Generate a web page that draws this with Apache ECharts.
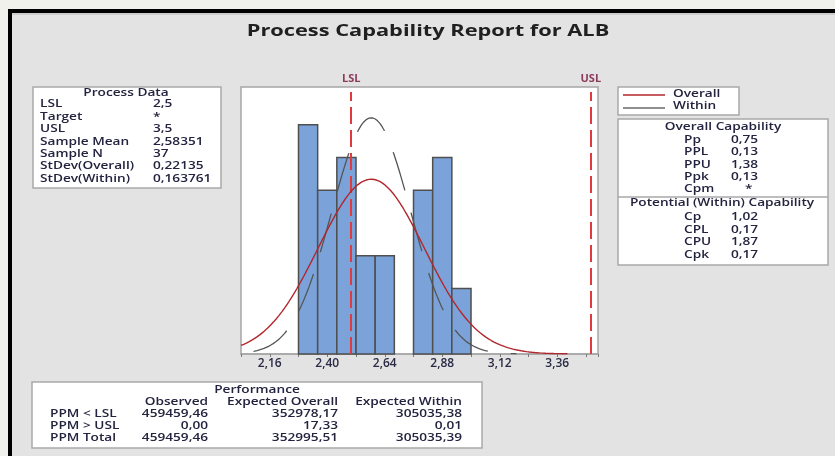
<!DOCTYPE html>
<html>
<head>
<meta charset="utf-8">
<script src="https://cdn.jsdelivr.net/npm/echarts@6/dist/echarts.min.js"></script>
<style>
  html, body { margin: 0; padding: 0; background: #e3e3e3; }
  #chart { width: 835px; height: 456px; }
</style>
</head>
<body>
<div id="chart"></div>
<script>
// Histogram of ALB: lower edge of each bin and its count
const binLower = [2.28, 2.36, 2.44, 2.52, 2.60, 2.68, 2.76, 2.84, 2.92];
const binCounts = [7, 5, 6, 3, 3, 0, 5, 6, 2];
const binWidth = 0.08;

// Process data
const LSL = 2.5;
const USL = 3.5;
const sampleMean = 2.58351;
const sampleN = 37;
const stdevOverall = 0.22135;
const stdevWithin = 0.163761;

// Axis tick labels
const xTickValues = [2.16, 2.40, 2.64, 2.88, 3.12, 3.36];
const xTickLabels = ['2,16', '2,40', '2,64', '2,88', '3,12', '3,36'];

// Side tables
const processDataLabels = ['LSL', 'Target', 'USL', 'Sample Mean', 'Sample N', 'StDev(Overall)', 'StDev(Within)'];
const processDataValues = ['2,5', '*', '3,5', '2,58351', '37', '0,22135', '0,163761'];

const overallCapLabels = ['Pp', 'PPL', 'PPU', 'Ppk', 'Cpm'];
const overallCapValues = ['0,75', '0,13', '1,38', '0,13', '*'];
const withinCapLabels = ['Cp', 'CPL', 'CPU', 'Cpk'];
const withinCapValues = ['1,02', '0,17', '1,87', '0,17'];

const perfColumns = ['Observed', 'Expected Overall', 'Expected Within'];
const perfRows = ['PPM < LSL', 'PPM > USL', 'PPM Total'];
const perfObserved = ['459459,46', '0,00', '459459,46'];
const perfExpOverall = ['352978,17', '17,33', '352995,51'];
const perfExpWithin = ['305035,38', '0,01', '305035,39'];

// ---- fitted normal curves, scaled to histogram counts ----
const X_MIN = 2.04, X_MAX = 3.53;
const CURVE_SPAN = 3.7; // curves drawn out to mean + 3.7 sigma

function normalCurve(mu, sigma) {
  const scale = sampleN * binWidth / (sigma * Math.sqrt(2 * Math.PI));
  const end = Math.min(X_MAX, mu + CURVE_SPAN * sigma);
  const start = Math.max(X_MIN, mu - CURVE_SPAN * sigma);
  const pts = [];
  const steps = 240;
  for (let i = 0; i <= steps; i++) {
    const x = start + (end - start) * i / steps;
    const z = (x - mu) / sigma;
    pts.push([x, scale * Math.exp(-0.5 * z * z)]);
  }
  return pts;
}

const histData = binLower.map((lo, i) => [lo, lo + binWidth, binCounts[i]]);
const withinCurve = normalCurve(sampleMean, stdevWithin);
const overallCurve = normalCurve(sampleMean, stdevOverall);

// ---- text helpers for the side tables ----
const TEXT_COLOR = '#23233f';
const TABLE_FONT = '600 10.5px "Open Sans"';
const TEXT_SX = 1.3;

function txt(x, y, s, opt) {
  opt = opt || {};
  const align = opt.align || 'left';
  return {
    type: 'text', x: x, y: y, scaleX: opt.sx || TEXT_SX, silent: true, z: 10,
    style: {
      text: s, font: opt.font || TABLE_FONT, fill: opt.color || TEXT_COLOR,
      textAlign: align, textVerticalAlign: 'middle', align: align, verticalAlign: 'middle'
    }
  };
}
function box(x, y, w, h) {
  return {
    type: 'rect', silent: true, z: 5,
    shape: { x: x, y: y, width: w, height: h },
    style: { fill: '#ffffff', stroke: '#a9a9a9', lineWidth: 1.5 }
  };
}

const graphics = [];
// frame
graphics.push({ type: 'rect', silent: true, z: 1, shape: { x: 0, y: 0, width: 835, height: 9 }, style: { fill: '#f0f0ec' } });
graphics.push({ type: 'rect', silent: true, z: 1, shape: { x: 0, y: 0, width: 8, height: 456 }, style: { fill: '#f0f0ec' } });
graphics.push({ type: 'rect', silent: true, z: 2, shape: { x: 8, y: 9, width: 827, height: 4 }, style: { fill: '#000000' } });
graphics.push({ type: 'rect', silent: true, z: 2, shape: { x: 8, y: 9, width: 4, height: 447 }, style: { fill: '#000000' } });
graphics.push({ type: 'rect', silent: true, z: 2, shape: { x: 12, y: 13, width: 823, height: 2 }, style: { fill: '#cdcdcd' } });

// title
graphics.push(txt(428, 31, 'Process Capability Report for ALB',
  { font: '700 16.5px "Open Sans"', align: 'center', sx: 1.32, color: '#202020' }));

// Process Data
graphics.push(box(33, 87, 188, 101));
graphics.push(txt(126, 93, 'Process Data', { align: 'center' }));
processDataLabels.forEach((l, i) => {
  const y = 104.5 + i * 12.4;
  graphics.push(txt(40, y, l));
  graphics.push(txt(153, y, processDataValues[i]));
});

// legend
graphics.push(box(618, 87, 121, 28));
graphics.push({ type: 'line', silent: true, z: 10, shape: { x1: 623, y1: 95, x2: 665, y2: 95 }, style: { stroke: '#b3262b', lineWidth: 1.3 } });
graphics.push({ type: 'line', silent: true, z: 10, shape: { x1: 623, y1: 108, x2: 665, y2: 108 }, style: { stroke: '#6a6a6a', lineWidth: 1.3 } });
graphics.push(txt(673, 94, 'Overall'));
graphics.push(txt(673, 106, 'Within'));

// capability
graphics.push(box(618, 119, 210, 146));
graphics.push({ type: 'line', silent: true, z: 10, shape: { x1: 618, y1: 197, x2: 828, y2: 197 }, style: { stroke: '#a9a9a9', lineWidth: 1.5 } });
graphics.push(txt(723, 127, 'Overall Capability', { align: 'center' }));
overallCapLabels.forEach((l, i) => {
  const y = 140 + i * 12.3;
  graphics.push(txt(684, y, l));
  graphics.push(txt(overallCapValues[i] === '*' ? 745 : 731, y, overallCapValues[i]));
});
graphics.push(txt(722, 203, 'Potential (Within) Capability', { align: 'center' }));
withinCapLabels.forEach((l, i) => {
  const y = 217 + i * 12.7;
  graphics.push(txt(684, y, l));
  graphics.push(txt(731, y, withinCapValues[i]));
});

// performance
graphics.push(box(32, 382, 450, 66));
graphics.push(txt(257, 390, 'Performance', { align: 'center' }));
const perfRight = [208, 338, 462];
perfColumns.forEach((c, j) => graphics.push(txt(perfRight[j], 402, c, { align: 'right' })));
const perfCols = [perfObserved, perfExpOverall, perfExpWithin];
perfRows.forEach((r, i) => {
  const y = 414 + i * 12;
  graphics.push(txt(50, y, r));
  perfCols.forEach((col, j) => graphics.push(txt(perfRight[j], y, col[i], { align: 'right' })));
});

const specLineStyle = { color: '#e0393e', width: 2, type: [17, 6] };
const specLabel = {
  show: true, position: 'end', distance: 8,
  formatter: p => p.name,
  color: '#8e3a5c', fontFamily: 'Open Sans', fontWeight: 700, fontSize: 11
};

const WITHIN_DASH = [40, 23];

const chart = echarts.init(document.getElementById('chart'), null, { renderer: 'canvas' });
chart.setOption({
  backgroundColor: '#e3e3e3',
  animation: false,
  grid: {
    left: 241, top: 87, right: 237, bottom: 102,
    show: true, backgroundColor: '#ffffff', borderColor: '#a6a6a6', borderWidth: 1.5
  },
  xAxis: {
    type: 'value', min: X_MIN, max: X_MAX, interval: 0.12,
    axisLine: { show: true, onZero: false, lineStyle: { color: '#a6a6a6', width: 1.5 } },
    axisTick: { show: true, inside: false, length: 3, lineStyle: { color: '#7a7a7a' } },
    splitLine: { show: false },
    axisLabel: {
      margin: 4,
      color: '#2a2a45', fontFamily: 'Open Sans', fontWeight: 600, fontSize: 12,
      showMinLabel: true, showMaxLabel: true,
      formatter: v => {
        const i = xTickValues.findIndex(t => Math.abs(t - v) < 1e-6);
        return i >= 0 ? xTickLabels[i] : '';
      }
    }
  },
  yAxis: { type: 'value', min: 0, max: 8.15, show: false },
  series: [
    {
      type: 'custom', name: 'Histogram', z: 2,
      data: histData,
      encode: { x: [0, 1], y: 2 },
      renderItem: (params, api) => {
        const lo = api.value(0), hi = api.value(1), c = api.value(2);
        if (!c) return { type: 'group', children: [] };
        const p0 = api.coord([lo, c]);
        const p1 = api.coord([hi, 0]);
        return {
          type: 'rect',
          shape: { x: p0[0], y: p0[1], width: p1[0] - p0[0], height: p1[1] - p0[1] },
          style: { fill: '#7ba3d9', stroke: '#4f4f4f', lineWidth: 1.5 }
        };
      }
    },
    {
      type: 'line', name: 'Within', z: 4,
      data: withinCurve,
      showSymbol: false, smooth: false,
      lineStyle: { color: '#555555', width: 1.3, type: WITHIN_DASH }
    },
    {
      type: 'line', name: 'Overall', z: 5,
      data: overallCurve,
      showSymbol: false, smooth: false,
      lineStyle: { color: '#b3262b', width: 1.4 },
      markLine: {
        silent: true, symbol: 'none', animation: false,
        lineStyle: specLineStyle,
        label: specLabel,
        data: [
          [{ coord: [LSL, 0], name: 'LSL' }, { coord: [LSL, 8.0] }],
          [{ coord: [USL, 0], name: 'USL' }, { coord: [USL, 8.0] }]
        ]
      }
    }
  ],
  graphic: graphics
});

// Shift the dash pattern of the within curve so one dash sits centred on its peak
(function () {
  let len = 0;
  let prev = chart.convertToPixel({ seriesIndex: 1 }, withinCurve[0]);
  for (let i = 1; i < withinCurve.length && withinCurve[i][0] <= sampleMean; i++) {
    const p = chart.convertToPixel({ seriesIndex: 1 }, withinCurve[i]);
    len += Math.hypot(p[0] - prev[0], p[1] - prev[1]);
    prev = p;
  }
  const period = WITHIN_DASH[0] + WITHIN_DASH[1];
  const offset = (((WITHIN_DASH[0] / 2 - len) % period) + period) % period;
  chart.setOption({ series: [{}, { lineStyle: { dashOffset: offset } }, {}] });
})();
</script>
</body>
</html>
